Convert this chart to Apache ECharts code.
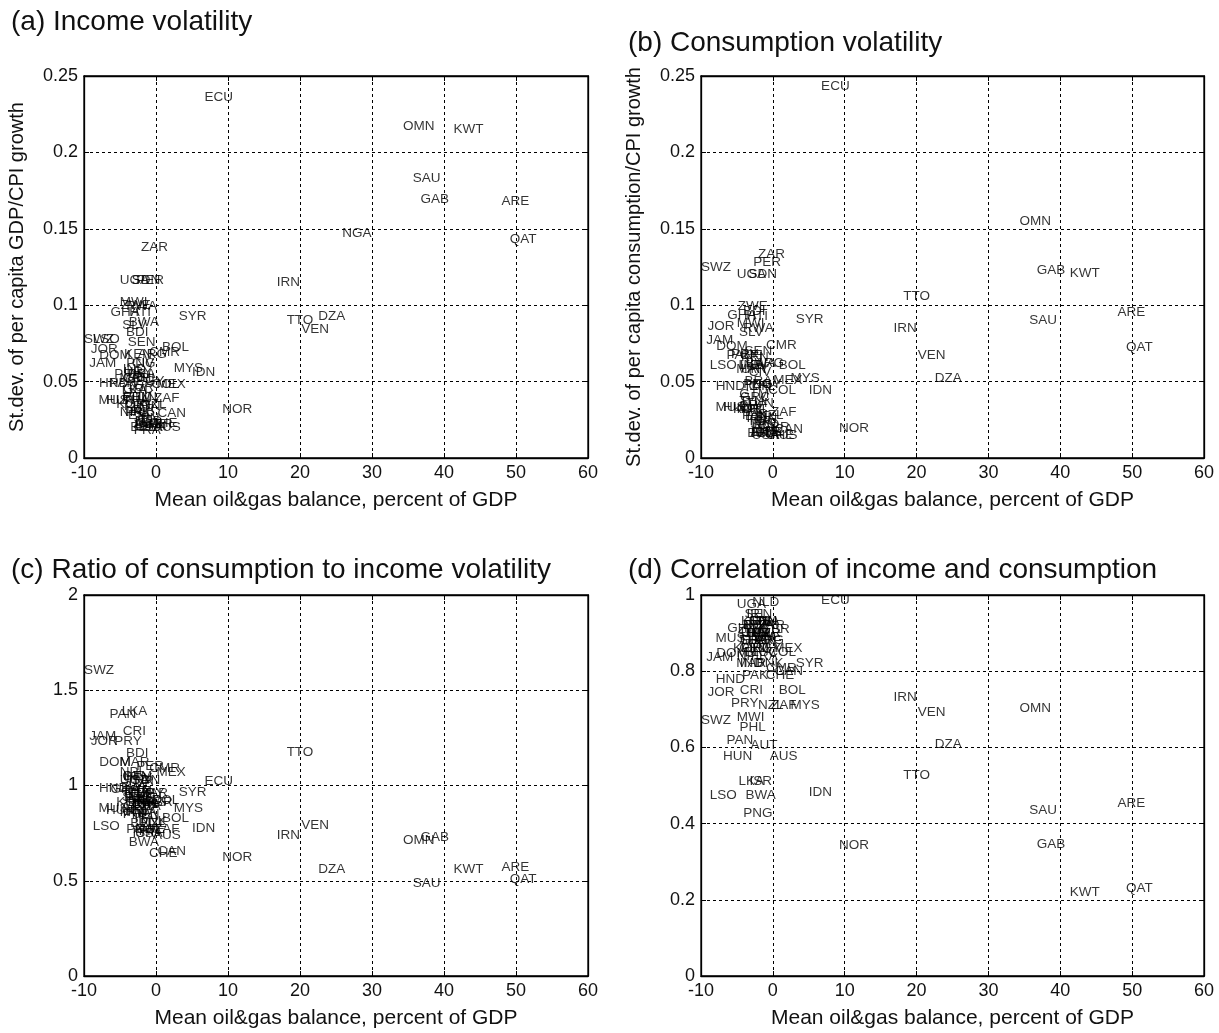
<!DOCTYPE html>
<html>
<head>
<meta charset="utf-8">
<script src="https://cdn.jsdelivr.net/npm/echarts@6/dist/echarts.min.js"></script>
<style>
html,body{margin:0;padding:0;background:#fff;}
#chart{width:1219px;height:1033px;}
</style>
</head>
<body>
<div id="chart"></div>
<script>
// Country codes
const countries = ['ECU','OMN','KWT','SAU','GAB','ARE','QAT','NGA','IRN','TTO','VEN','DZA','NOR','SYR','IDN','MYS',
'SWZ','LSO','JOR','JAM','DOM','PAN','LKA','CRI','PRY','HND','HUN','AUT','AUS','ISR','BWA','PNG','PHL','MWI','NZL','ZAF',
'NLD','UGA','SDN','PER','ZAR','ZWE','GHA','HTI','SLV','BDI','BOL','CMR','MEX','COL','EGY','MUS','CHE','CAN','IND','GRC',
'FRA','RWA','SEN','KEN','BRA','ARG','CHL','URY','GTM','MAR','TUN','TUR','THA','KOR','PAK','NPL','USA','GBR','JPN','ITA',
'ESP','PRT','SWE','FIN','DNK','BEL','IRL','CIV'];
// Mean oil&gas balance, percent of GDP (x)
const balance = [8.7,36.5,43.4,37.6,38.7,49.9,51.0,27.9,18.4,20.0,22.1,24.4,11.3,5.1,6.6,4.5,
-7.9,-6.9,-7.2,-7.4,-5.7,-4.6,-3.0,-3.0,-3.9,-5.9,-4.9,-1.25,1.5,-1.7,-1.7,-2.1,-2.8,-3.1,-0.3,1.5,
-1.0,-3.0,-1.4,-0.8,-0.2,-2.8,-4.3,-2.2,-3.0,-2.6,2.7,1.2,2.1,1.3,-0.8,-5.9,1.0,2.2,-3.0,-2.5,
-1.2,-2.0,-2.0,-2.5,-2.0,-0.5,-1.5,-2.5,-2.6,-3.0,-1.8,-2.2,-2.8,-3.5,-2.5,-3.2,-1.0,0.3,-1.3,-1.6,
-2.0,-2.6,-0.9,-0.9,-0.5,-1.8,-2.2,-1.8];
// (a) St.dev. of per capita GDP/CPI growth
const incomeVol = [0.236,0.217,0.215,0.183,0.169,0.168,0.143,0.147,0.115,0.090,0.084,0.093,0.032,0.093,0.056,0.059,
0.078,0.078,0.071,0.062,0.067,0.049,0.044,0.052,0.055,0.049,0.038,0.022,0.020,0.032,0.089,0.062,0.040,0.102,0.035,0.039,
0.024,0.116,0.116,0.116,0.138,0.100,0.0955,0.0955,0.087,0.082,0.0726,0.069,0.048,0.048,0.050,0.038,0.023,0.0295,0.058,0.045,
0.018,0.099,0.076,0.068,0.055,0.068,0.052,0.056,0.040,0.052,0.040,0.046,0.038,0.035,0.030,0.030,0.020,0.022,0.026,0.024,
0.028,0.034,0.022,0.034,0.021,0.020,0.030,0.062];
// (b) St.dev. of per capita consumption/CPI growth
const consVol = [0.243,0.155,0.121,0.090,0.123,0.0955,0.0726,null,0.085,0.106,0.0674,0.052,0.0196,0.091,0.044,0.052,
0.125,0.061,0.086,0.077,0.073,0.067,0.061,0.067,0.068,0.047,0.033,0.017,0.0148,0.024,0.062,0.048,0.034,0.088,0.028,0.030,
0.022,0.120,0.120,0.128,0.133,0.0995,0.0936,0.093,0.082,0.096,0.061,0.074,0.051,0.044,0.048,0.0335,0.015,0.019,0.061,0.040,
0.016,0.085,0.070,0.066,0.050,0.062,0.047,0.058,0.042,0.058,0.036,0.047,0.037,0.032,0.028,0.032,0.015,0.020,0.022,0.020,
0.027,0.032,0.017,0.026,0.017,0.016,0.026,0.056];
// (c) Ratio of consumption to income volatility
const volRatio = [1.024,0.714,0.562,0.488,0.730,0.572,0.509,null,0.740,1.176,0.793,0.562,0.625,0.966,0.777,0.882,
1.606,0.787,1.234,1.260,1.120,1.375,1.390,1.286,1.230,0.987,0.870,0.770,0.740,0.750,0.700,0.770,0.850,0.860,0.800,0.770,
0.920,1.030,1.030,1.100,0.960,0.990,0.980,0.970,0.940,1.170,0.829,1.090,1.071,0.924,0.960,0.882,0.646,0.656,1.050,0.890,
0.890,0.860,0.920,0.970,0.910,0.910,0.900,1.040,1.050,1.120,0.900,1.020,0.970,0.910,0.930,1.070,0.750,0.910,0.850,0.830,
0.960,0.940,0.770,0.760,0.810,0.800,0.870,0.900];
// (d) Correlation of income and consumption
const incConsCorr = [0.987,0.703,0.220,0.436,0.346,0.454,0.231,null,0.732,0.528,0.693,0.609,0.344,0.822,0.483,0.711,
0.672,0.475,0.745,0.837,0.848,0.619,0.512,0.750,0.717,0.780,0.577,0.606,0.577,0.512,0.475,0.428,0.654,0.680,0.711,0.711,
0.980,0.976,0.930,0.900,0.920,0.910,0.913,0.900,0.880,0.920,0.750,0.808,0.860,0.850,0.860,0.887,0.790,0.800,0.820,0.880,
0.840,0.920,0.950,0.930,0.850,0.880,0.870,0.900,0.860,0.820,0.890,0.900,0.880,0.860,0.790,0.840,0.930,0.910,0.880,0.900,
0.920,0.860,0.890,0.930,0.820,0.900,0.950,0.930];

const titles = ['(a) Income volatility','(b) Consumption volatility','(c) Ratio of consumption to income volatility','(d) Correlation of income and consumption'];
const yNames = ['St.dev. of per capita GDP/CPI growth','St.dev. of per capita consumption/CPI growth','',''];
const xName = 'Mean oil&gas balance, percent of GDP';
const yRanges = [[0,0.25,0.05],[0,0.25,0.05],[0,2,0.5],[0,1,0.2]];
const panelValues = [incomeVol, consVol, volRatio, incConsCorr];

const FONT = 'Liberation Sans, Arial, Helvetica, sans-serif';
const grids = [
  {left:84, top:76, width:504, height:382},
  {left:701, top:76, width:503, height:382},
  {left:84, top:595, width:504, height:381},
  {left:701, top:595, width:503, height:381}
];
const titlePos = [{left:6,top:3},{left:623,top:24},{left:6,top:551},{left:623,top:551}];

const splitStyle = {show:true, lineStyle:{color:'#000', type:[3,3], width:1}};
const lineStyle = {show:true, onZero:false, lineStyle:{color:'#000', width:1.3}};
const tickStyle = {show:true, inside:true, length:5, lineStyle:{color:'#000'}};

const xAxes = grids.map((g,i)=>({
    gridIndex:i, type:'value', min:-10, max:60, interval:10,
    name:xName, nameLocation:'middle', nameGap:32,
    nameTextStyle:{fontSize:21, color:'#111', fontFamily:FONT},
    axisLine:lineStyle, axisTick:tickStyle,
    axisLabel:{fontSize:18, color:'#111', fontFamily:FONT, margin:6},
    splitLine:splitStyle
  }));
const yAxes = grids.map((g,i)=>({
    gridIndex:i, type:'value', min:yRanges[i][0], max:yRanges[i][1], interval:yRanges[i][2],
    name:yNames[i], nameLocation:'middle', nameGap:57,
    nameTextStyle:{fontSize:20, color:'#111', fontFamily:FONT},
    axisLine:lineStyle, axisTick:tickStyle,
    axisLabel:{fontSize:18, color:'#111', fontFamily:FONT, margin:6},
    splitLine:splitStyle
  }));
// mirrored top / right axes (ticks only, like a boxed plot)
grids.forEach((g,i)=>{
  xAxes.push({gridIndex:i, type:'value', position:'top', min:-10, max:60, interval:10,
    axisLine:lineStyle, axisTick:tickStyle, axisLabel:{show:false}, splitLine:{show:false}});
  yAxes.push({gridIndex:i, type:'value', position:'right', min:yRanges[i][0], max:yRanges[i][1], interval:yRanges[i][2],
    axisLine:lineStyle, axisTick:tickStyle, axisLabel:{show:false}, splitLine:{show:false}});
});

const option = {
  animation:false,
  backgroundColor:'#fff',
  title: titles.map((t,i)=>({text:t, left:titlePos[i].left, top:titlePos[i].top,
    textStyle:{fontSize:28, fontWeight:'normal', color:'#111', fontFamily:FONT}})),
  grid: grids.map(g=>Object.assign({show:true, borderColor:'#000', borderWidth:1.3, backgroundColor:'#fff'}, g)),
  xAxis: xAxes,
  yAxis: yAxes,
  series: panelValues.map((vals,i)=>({
    type:'scatter', xAxisIndex:i, yAxisIndex:i,
    symbol:'circle', symbolSize:1, itemStyle:{color:'rgba(0,0,0,0)'},
    silent:true,
    label:{show:true, position:'inside', formatter:'{b}', color:'#000', fontSize:13.5, fontFamily:FONT, textBorderWidth:0},
    labelLayout:{hideOverlap:false},
    data: countries.map((c,k)=> vals[k]==null ? null : {name:c, value:[balance[k], vals[k]]}).filter(d=>d)
  }))
};
const chart = echarts.init(document.getElementById('chart'), null, {renderer:'canvas'});
chart.setOption(option);
</script>
</body>
</html>
